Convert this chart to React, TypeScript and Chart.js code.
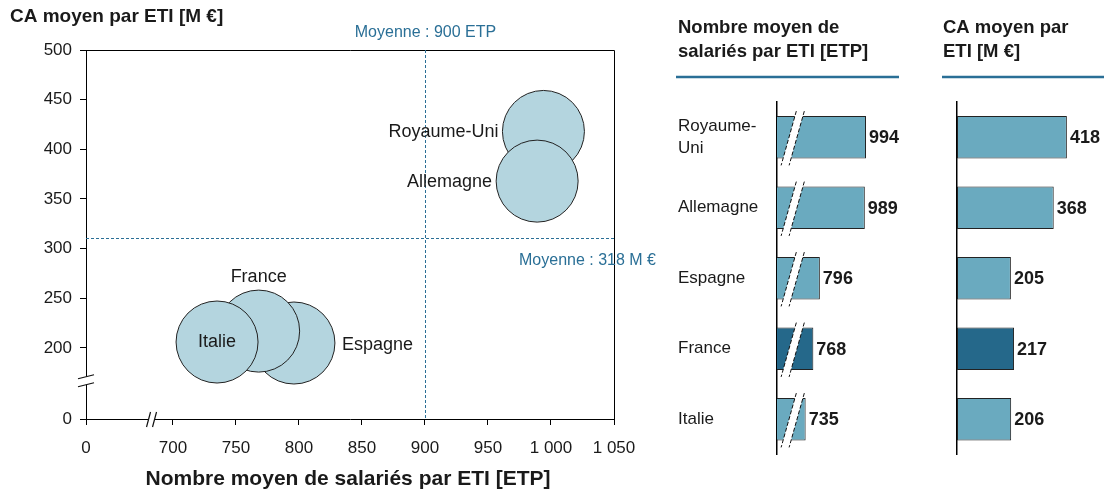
import React, { useEffect, useRef } from 'react';
import { Chart, registerables } from 'chart.js';

Chart.register(...registerables);

// ---------- data ----------
const countries = ['Royaume-Uni', 'Allemagne', 'Espagne', 'France', 'Italie'];
const countryAxisLabels: (string | string[])[] = [['Royaume-', 'Uni'], 'Allemagne', 'Espagne', 'France', 'Italie'];
const employees = [994, 989, 796, 768, 735]; // Nombre moyen de salariés par ETI [ETP]
const revenue = [418, 368, 205, 217, 206]; // CA moyen par ETI [M €]
const highlightCountry = 'France';
const meanEmployees = 900;
const meanRevenue = 318;
const meanRevenueLinePos = 311; // where the dashed mean line is drawn in the reference
const xTickValues = [700, 750, 800, 850, 900, 950, 1000, 1050];
const yTickValues = [200, 250, 300, 350, 400, 450, 500];
const xAxisOrigin = 631; // broken axis: this value is shown as "0"
const yAxisOrigin = 128.5; // broken axis: this value is shown as "0"
const xBreakMark = 683;
const yBreakMark = 168;
const bubbleLabelPlacement = ['left', 'left', 'right', 'top', 'center'];
const empBarMin = 612; // broken bar axis start
const empBarMax = 1140;
const revBarMax = 544;

// ---------- style ----------
const FONT = '"Liberation Sans", Arial, Helvetica, sans-serif';
const TEXT = '#1a1a1a';
const MEAN_COLOR = '#2a6f96';
const BUBBLE_FILL = '#b4d5df';
const BAR_LIGHT = '#6aaabf';
const BAR_DARK = '#25688a';

const fmt = (v: number) => String(Math.round(v)).replace(/\B(?=(\d{3})+(?!\d))/g, ' ');

function drawHeader(ctx: CanvasRenderingContext2D, lines: string[], x: number, lineX0: number, lineX1: number) {
  ctx.save();
  ctx.font = `bold 18.5px ${FONT}`;
  ctx.fillStyle = TEXT;
  ctx.textAlign = 'left';
  ctx.textBaseline = 'middle';
  lines.forEach((l, i) => ctx.fillText(l, x, 28 + i * 24));
  ctx.strokeStyle = MEAN_COLOR;
  ctx.lineWidth = 2.5;
  ctx.beginPath();
  ctx.moveTo(lineX0, 77);
  ctx.lineTo(lineX1, 77);
  ctx.stroke();
  ctx.restore();
}

function drawBarBreak(ctx: CanvasRenderingContext2D, cx: number, top: number, bottom: number) {
  const cy = (top + bottom) / 2;
  const t = top - 5;
  const b = bottom + 7;
  const slope = 0.28;
  const half = 4;
  const xAt = (y: number) => cx - (y - cy) * slope;
  ctx.save();
  ctx.fillStyle = '#ffffff';
  ctx.beginPath();
  ctx.moveTo(xAt(t) - half, t);
  ctx.lineTo(xAt(t) + half, t);
  ctx.lineTo(xAt(b) + half, b);
  ctx.lineTo(xAt(b) - half, b);
  ctx.closePath();
  ctx.fill();
  ctx.setLineDash([4, 2]);
  ctx.strokeStyle = '#111';
  ctx.lineWidth = 1;
  ctx.beginPath();
  ctx.moveTo(xAt(t) - half, t);
  ctx.lineTo(xAt(b) - half, b);
  ctx.moveTo(xAt(t) + half, t);
  ctx.lineTo(xAt(b) + half, b);
  ctx.stroke();
  ctx.restore();
}

function BubbleChart() {
  const ref = useRef<HTMLCanvasElement>(null);
  useEffect(() => {
    if (!ref.current) return;
    const overlay = {
      id: 'bubbleOverlay',
      beforeDatasetsDraw(chart: any) {
        const { ctx, chartArea: a, scales } = chart;
        const xs = scales.x;
        const ys = scales.y;
        ctx.save();
        // top & right frame
        ctx.strokeStyle = '#000';
        ctx.lineWidth = 1;
        ctx.beginPath();
        ctx.moveTo(a.left, a.top + 0.5);
        ctx.lineTo(a.right + 0.5, a.top + 0.5);
        ctx.lineTo(a.right + 0.5, a.bottom);
        ctx.stroke();
        // mean lines
        ctx.strokeStyle = MEAN_COLOR;
        ctx.setLineDash([3, 2]);
        const mx = Math.round(xs.getPixelForValue(meanEmployees)) + 0.5;
        const my = Math.round(ys.getPixelForValue(meanRevenueLinePos)) + 0.5;
        ctx.beginPath();
        ctx.moveTo(mx, a.top);
        ctx.lineTo(mx, a.bottom);
        ctx.moveTo(a.left, my);
        ctx.lineTo(a.right, my);
        ctx.stroke();
        ctx.setLineDash([]);
        ctx.fillStyle = MEAN_COLOR;
        ctx.font = `16px ${FONT}`;
        ctx.textBaseline = 'middle';
        ctx.textAlign = 'center';
        ctx.fillText(`Moyenne : ${meanEmployees} ETP`, mx, 33);
        ctx.textAlign = 'right';
        ctx.fillText(`Moyenne : ${meanRevenue} M €`, a.right + 42, my + 22);
        ctx.restore();
      },
      afterDatasetsDraw(chart: any) {
        const { ctx, chartArea: a, scales } = chart;
        const meta = chart.getDatasetMeta(0);
        ctx.save();
        ctx.font = `18px ${FONT}`;
        ctx.fillStyle = TEXT;
        ctx.textBaseline = 'middle';
        meta.data.forEach((el: any, i: number) => {
          const r = el.options.radius;
          const p = bubbleLabelPlacement[i];
          if (p === 'left') {
            ctx.textAlign = 'right';
            ctx.fillText(countries[i], el.x - r - 4, el.y + 1);
          } else if (p === 'top') {
            ctx.textAlign = 'center';
            ctx.fillText(countries[i], el.x, el.y - r - 13);
          } else if (p === 'right') {
            ctx.textAlign = 'left';
            ctx.fillText(countries[i], el.x + r + 7, el.y + 2);
          } else {
            ctx.textAlign = 'center';
            ctx.fillText(countries[i], el.x, el.y);
          }
        });
        // axis titles
        ctx.font = `bold 19px ${FONT}`;
        ctx.textAlign = 'left';
        ctx.fillText('CA moyen par ETI [M €]', 10, 17);
        ctx.font = `bold 21px ${FONT}`;
        ctx.textAlign = 'center';
        ctx.fillText('Nombre moyen de salariés par ETI [ETP]', (a.left + a.right) / 2 - 2, 479);
        // axis breaks
        const yb = scales.y.getPixelForValue(yBreakMark);
        const L = a.left;
        ctx.fillStyle = '#fff';
        ctx.beginPath();
        ctx.moveTo(L - 3, yb - 2);
        ctx.lineTo(L + 3, yb - 4);
        ctx.lineTo(L + 3, yb + 4);
        ctx.lineTo(L - 3, yb + 6);
        ctx.closePath();
        ctx.fill();
        ctx.strokeStyle = '#111';
        ctx.lineWidth = 1.2;
        ctx.beginPath();
        ctx.moveTo(L - 8, yb - 1);
        ctx.lineTo(L + 8, yb - 5);
        ctx.moveTo(L - 8, yb + 7);
        ctx.lineTo(L + 8, yb + 3);
        ctx.stroke();
        const xb = scales.x.getPixelForValue(xBreakMark);
        const B = a.bottom;
        ctx.fillStyle = '#fff';
        ctx.fillRect(xb - 3, B - 2, 6, 4);
        ctx.beginPath();
        ctx.moveTo(xb - 5, B + 8);
        ctx.lineTo(xb - 1, B - 7);
        ctx.moveTo(xb + 1, B + 8);
        ctx.lineTo(xb + 5, B - 7);
        ctx.stroke();
        ctx.restore();
      },
    };
    const chart = new Chart(ref.current, {
      type: 'bubble',
      data: {
        datasets: [
          {
            data: countries.map((_, i) => ({ x: employees[i], y: revenue[i], r: 41 })),
            backgroundColor: BUBBLE_FILL,
            borderColor: '#222',
            borderWidth: 1,
          },
        ],
      },
      options: {
        animation: false,
        responsive: false,
        maintainAspectRatio: false,
        layout: { padding: { left: 0, top: 50, right: 46, bottom: 0 } },
        plugins: { legend: { display: false }, tooltip: { enabled: false } },
        scales: {
          x: {
            type: 'linear',
            min: xAxisOrigin,
            max: 1050,
            afterBuildTicks: (s: any) => {
              s.ticks = [xAxisOrigin, ...xTickValues].map((v) => ({ value: v }));
            },
            afterFit: (s: any) => {
              s.height = 75;
            },
            grid: { drawOnChartArea: false, drawTicks: true, tickLength: 6, color: '#000' },
            border: { display: true, color: '#000', width: 1 },
            ticks: {
              autoSkip: false,
              maxRotation: 0,
              padding: 13,
              color: TEXT,
              font: { family: FONT, size: 17 },
              callback: (v: any) => (v === xAxisOrigin ? '0' : fmt(Number(v))),
            },
          },
          y: {
            type: 'linear',
            min: yAxisOrigin,
            max: 500,
            afterBuildTicks: (s: any) => {
              s.ticks = [yAxisOrigin, ...yTickValues].map((v) => ({ value: v }));
            },
            afterFit: (s: any) => {
              s.width = 86;
            },
            grid: { drawOnChartArea: false, drawTicks: true, tickLength: 6, color: '#000' },
            border: { display: true, color: '#000', width: 1 },
            ticks: {
              autoSkip: false,
              padding: 8,
              color: TEXT,
              font: { family: FONT, size: 17 },
              callback: (v: any) => (v === yAxisOrigin ? '0' : fmt(Number(v))),
            },
          },
        },
      } as any,
      plugins: [overlay],
    });
    return () => chart.destroy();
  }, []);
  return <canvas ref={ref} width={660} height={494} style={{ position: 'absolute', left: 0, top: 0 }} />;
}

function BarChart(props: {
  values: number[];
  min: number;
  max: number;
  left: number;
  width: number;
  padLeft: number;
  axisWidth: number;
  padRight: number;
  showLabels: boolean;
  broken: boolean;
  header: string[];
  headerX: number;
  lineX0: number;
  lineX1: number;
}) {
  const ref = useRef<HTMLCanvasElement>(null);
  useEffect(() => {
    if (!ref.current) return;
    const p = props;
    const overlay = {
      id: 'barOverlay',
      afterDatasetsDraw(chart: any) {
        const { ctx, chartArea: a } = chart;
        const meta = chart.getDatasetMeta(0);
        meta.data.forEach((el: any, i: number) => {
          const top = el.y - el.height / 2;
          const bottom = el.y + el.height / 2;
          if (p.broken) drawBarBreak(ctx, a.left + 16, top, bottom);
          ctx.save();
          ctx.font = `bold 18px ${FONT}`;
          ctx.fillStyle = TEXT;
          ctx.textAlign = 'left';
          ctx.textBaseline = 'middle';
          ctx.fillText(String(p.values[i]), el.x + 3, el.y + 1);
          ctx.restore();
        });
        drawHeader(ctx, p.header, p.headerX, p.lineX0, p.lineX1);
      },
    };
    const chart = new Chart(ref.current, {
      type: 'bar',
      data: {
        labels: countryAxisLabels as any,
        datasets: [
          {
            data: p.values,
            backgroundColor: countries.map((c) => (c === highlightCountry ? BAR_DARK : BAR_LIGHT)),
            borderColor: '#222',
            borderWidth: 1,
            borderSkipped: false,
            barPercentage: 0.6,
            categoryPercentage: 1,
          },
        ],
      },
      options: {
        indexAxis: 'y',
        animation: false,
        responsive: false,
        maintainAspectRatio: false,
        layout: { padding: { left: p.padLeft, top: 102, right: p.padRight, bottom: 39.5 } },
        plugins: { legend: { display: false }, tooltip: { enabled: false } },
        scales: {
          x: { type: 'linear', display: false, min: p.min, max: p.max },
          y: {
            afterFit: (s: any) => {
              s.width = p.axisWidth;
            },
            grid: { display: false, drawTicks: false },
            border: { display: true, color: '#000', width: 1.5 },
            ticks: {
              display: p.showLabels,
              crossAlign: 'far',
              padding: 0,
              color: TEXT,
              font: { family: FONT, size: 17, lineHeight: 1.25 },
            },
          },
        },
      } as any,
      plugins: [overlay],
    });
    return () => chart.destroy();
  }, []);
  return (
    <canvas
      ref={ref}
      width={props.width}
      height={494}
      style={{ position: 'absolute', left: props.left, top: 0 }}
    />
  );
}

export default function App() {
  return (
    <div
      style={{
        position: 'absolute',
        left: 0,
        top: 0,
        width: 1104,
        height: 494,
        background: '#ffffff',
        overflow: 'hidden',
      }}
    >
      <BubbleChart />
      <BarChart
        values={employees}
        min={empBarMin}
        max={empBarMax}
        left={660}
        width={280}
        padLeft={18}
        axisWidth={99}
        padRight={40}
        showLabels={true}
        broken={true}
        header={['Nombre moyen de', 'salariés par ETI [ETP]']}
        headerX={18}
        lineX0={16}
        lineX1={239}
      />
      <BarChart
        values={revenue}
        min={0}
        max={revBarMax}
        left={940}
        width={164}
        padLeft={17}
        axisWidth={0}
        padRight={4}
        showLabels={false}
        broken={false}
        header={['CA moyen par', 'ETI [M €]']}
        headerX={3}
        lineX0={2}
        lineX1={164}
      />
    </div>
  );
}
